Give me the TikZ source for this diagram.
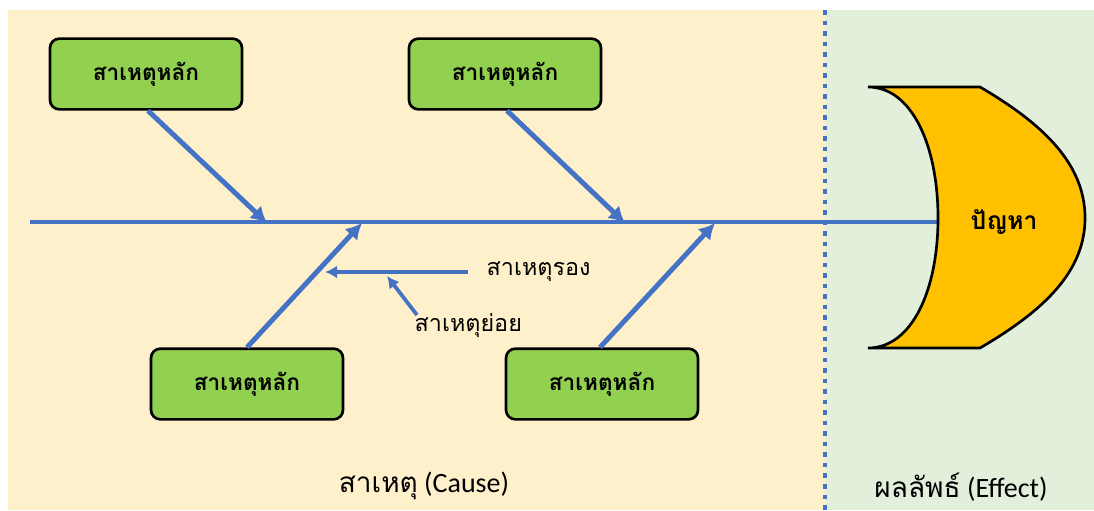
\documentclass[tikz,border=0pt]{standalone}
\usepackage{fontspec}
\setmainfont{Carlito}
\newfontfamily\thaifont[Script=Thai]{Loma}
\usepackage{tikz}
\usetikzlibrary{arrows.meta}

\definecolor{fishblue}{HTML}{4472C4}
\definecolor{causebg}{HTML}{FFF0CC}
\definecolor{effectbg}{HTML}{E2EFDA}
\definecolor{boxgreen}{HTML}{92D050}
\definecolor{headgold}{HTML}{FFC000}

\tikzset{
  mainbox/.style={draw=black, line width=2pt, fill=boxgreen, rounded corners=7pt,
    minimum width=144pt, minimum height=53pt, font=\thaifont\bfseries\fontsize{17}{20}\selectfont},
  bone/.style={fishblue, line width=3.7pt, -{Latex[length=12pt,width=13pt]}},
  subbone/.style={fishblue, line width=2.8pt, -{Latex[length=9pt,width=9.5pt]}},
  sublabel/.style={font=\thaifont\fontsize{17.5}{21}\selectfont, anchor=west}
}

\begin{document}
\begin{tikzpicture}[x=0.75pt, y=-0.75pt]
\useasboundingbox (0,0) rectangle (1094,510);
%%background
\fill[causebg] (8,10) rectangle (825,510);
\fill[effectbg] (825,10) rectangle (1094,510);
\draw[fishblue, line width=3.4pt, dash pattern=on 3.4pt off 4.5pt] (825,10) -- (825,510);
%spine
\coordinate (tail) at (30,222);
\coordinate (headin) at (938,222);
\draw[fishblue, line width=3.7pt] (tail) -- (headin);
%head
\draw[fill=headgold, line width=2pt] (868,87) -- (980,87)
  .. controls (1045,125) and (1085,165) .. (1085,218)
  .. controls (1085,271) and (1045,310) .. (980,348)
  -- (868,348)
  .. controls (912,348) and (938,290) .. (938,218)
  .. controls (938,146) and (912,87) .. (868,87) -- cycle;
\node[font=\thaifont\bfseries\fontsize{18.5}{22}\selectfont] (problem) at (1004,222) {ปัญหา};
%main causes
\node[mainbox] (c1) at (146,74) {สาเหตุหลัก};
\node[mainbox] (c2) at (505,74) {สาเหตุหลัก};
\node[mainbox] (c3) at (247,384) {สาเหตุหลัก};
\node[mainbox] (c4) at (602,384) {สาเหตุหลัก};
\coordinate (j1) at (267,223);
\coordinate (j2) at (625,223);
\coordinate (j3) at (362,223);
\coordinate (j4) at (715,223);
\draw[bone] (c1.south) ++(2,0) coordinate (s1) -- (j1);
\draw[bone] (c2.south) ++(2,0) coordinate (s2) -- (j2);
\draw[bone] (c3.north) -- (j3);
\draw[bone] (c4.north) ++(-2,0) coordinate (s4) -- (j4);
%sub causes
\node[sublabel] (second) at (482,272) {สาเหตุรอง};
\node[sublabel] (minor) at (410,326) {สาเหตุย่อย};
\coordinate (k1) at (325,272);
\coordinate (k2) at (387,276);
\coordinate (m1) at (417,315);
\draw[subbone] (second.west) ++(-14,0) coordinate (r1) -- (k1);
\draw[subbone] (m1) -- (k2);
%captions
\node (cause) at (424,486) {\fontsize{21}{25}\selectfont{\thaifont สาเหตุ} (Cause)};
\node (effect) at (961,487) {\fontsize{21}{25}\selectfont{\thaifont ผลลัพธ์} (Effect)};
\end{tikzpicture}
\end{document}
